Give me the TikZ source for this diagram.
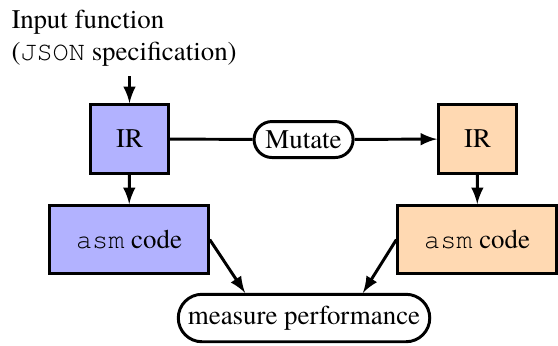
\documentclass[tikz,border=0pt]{standalone}
\usepackage{fontspec}
\setmainfont{TeX Gyre Termes}
\setmonofont{TeX Gyre Cursor}
\usetikzlibrary{%
  arrows,%
  shapes.misc,% wg. rounded rectangle
  positioning,%
  calc
}
\begin{document}
\begin{tikzpicture}[
  >=latex,
  line width=1.1pt,
  irbox/.style={rectangle, draw=black, minimum width=1.02cm, minimum height=0.9cm},
  codebox/.style={rectangle, draw=black, minimum width=2.07cm, minimum height=0.89cm},
  stage/.style={rounded rectangle, draw=black}
]

\useasboundingbox (0,0) rectangle (7.29,-4.51);

\node[anchor=north west, inner sep=0pt, align=left] (input) at (0.131,-0.11) {Input function\\(\texttt{JSON} specification)};
\coordinate (inp) at (1.692,-0.993);

\node[irbox, fill=blue!30] (irA) at (1.692,-1.816) {IR};
\node[stage, minimum width=1.26cm, minimum height=0.45cm] (mutate) at (3.966,-1.823) {Mutate};
\node[irbox, fill=orange!30] (irB) at (6.240,-1.816) {IR};

\node[codebox, fill=blue!30] (asmA) at (1.686,-3.130) {\texttt{asm} code};
\node[codebox, fill=orange!30] (asmB) at (6.233,-3.130) {\texttt{asm} code};

\node[stage, minimum width=3.52cm, minimum height=0.62cm] (measure) at (3.972,-4.155) {measure performance};

\draw[->] (inp) -- (irA);
\draw (irA) -- (mutate);
\draw[->] (mutate) -- (irB);
\draw[->] (irA) -- (asmA);
\draw[->] (irB) -- (asmB);
\draw[->] (asmA.east) -- ([xshift=-0.77cm]measure.north);
\draw[->] (asmB.west) -- ([xshift=0.77cm]measure.north);

\end{tikzpicture}
\end{document}
